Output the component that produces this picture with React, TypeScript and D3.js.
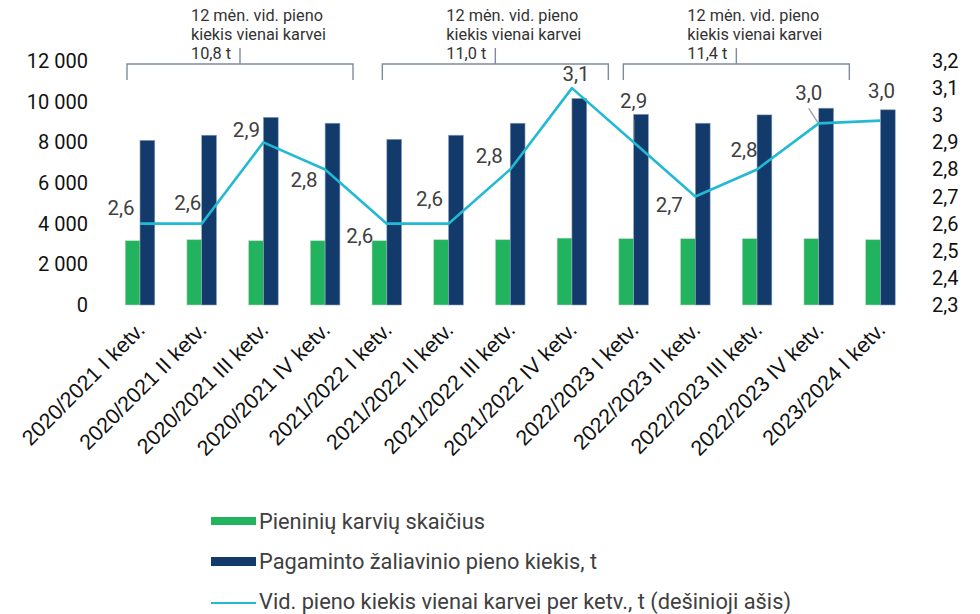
import React from "react";
import * as d3 from "d3";

const categories = [
  "2020/2021 I ketv.",
  "2020/2021 II ketv.",
  "2020/2021 III ketv.",
  "2020/2021 IV ketv.",
  "2021/2022 I ketv.",
  "2021/2022 II ketv.",
  "2021/2022 III ketv.",
  "2021/2022 IV ketv.",
  "2022/2023 I ketv.",
  "2022/2023 II ketv.",
  "2022/2023 III ketv.",
  "2022/2023 IV ketv.",
  "2023/2024 I ketv.",
];
const cows = [3160, 3210, 3160, 3160, 3160, 3210, 3210, 3290, 3260, 3260, 3260, 3260, 3210];
const milk = [8100, 8350, 9230, 8940, 8150, 8350, 8940, 10160, 9380, 8940, 9350, 9680, 9600];
const perCow = [2.6, 2.6, 2.9, 2.8, 2.6, 2.6, 2.8, 3.1, 2.9, 2.7, 2.8, 2.97, 2.98];
const leftTicks = [0, 2000, 4000, 6000, 8000, 10000, 12000];
const rightTicks = [2.3, 2.4, 2.5, 2.6, 2.7, 2.8, 2.9, 3.0, 3.1, 3.2];
const legendLabels = [
  "Pieninių karvių skaičius",
  "Pagaminto žaliavinio pieno kiekis, t",
  "Vid. pieno kiekis vienai karvei per ketv., t (dešinioji ašis)",
];
const annotationValues = ["10,8 t", "11,0 t", "11,4 t"];
const annotationStart = [0, 4, 8];

// label placement (offset from point, px)
const labelDx = [-19, -14, -17, -21, -27, -19, -21, 4, 0, -26, -13, -10, 1];
const labelDy = [-16, -21, -13, 10, 12, -25, -14, -14, -42, 8, -20, -31, -30];
const bracketShift = [-13, -4.5, -10.3];

const GREEN = "#22b35e";
const NAVY = "#123a6a";
const CYAN = "#22b9d5";
const FONT = "Roboto, 'Noto Sans', sans-serif";
const XFONT = "'Liberation Sans', Arial, sans-serif";

export default function App() {
  const x = d3.scaleBand<string>().domain(categories).range([109.15, 911.3]).padding(0);
  const step = x.step();
  const cx = (i: number) => (x(categories[i]) as number) + step / 2;
  const yL = d3.scaleLinear().domain([0, 12000]).range([305, 61]);
  const yR = d3.scaleLinear().domain([2.3, 3.2]).range([305, 61]);
  const barW = 14.8;

  const fmtLeft = (v: number) => d3.format(",")(v).replace(/,/g, " ");
  const fmtRight = (v: number) => {
    const s = d3.format(".1f")(v);
    return (s.endsWith(".0") ? s.slice(0, -2) : s).replace(".", ",");
  };
  const fmtLabel = (v: number) => d3.format(".1f")(v).replace(".", ",");

  const line = d3
    .line<number>()
    .x((_, i) => cx(i))
    .y((d) => yR(d));

  const bracketWidth = 226;

  return (
    <svg
      width={980}
      height={614}
      style={{ position: "absolute", left: 0, top: 0, background: "#fff" }}
      fontFamily={FONT}
    >
      {/* left axis */}
      {leftTicks.map((t) => (
        <text key={"l" + t} x={88} y={yL(t)} dy="0.35em" textAnchor="end" fontSize={20} fill="#111">
          {fmtLeft(t)}
        </text>
      ))}
      {/* right axis */}
      {rightTicks.map((t) => (
        <text key={"r" + t} x={932} y={yR(t)} dy="0.35em" textAnchor="start" fontSize={20} fill="#111">
          {fmtRight(t)}
        </text>
      ))}

      {/* bars */}
      {categories.map((c, i) => (
        <g key={c}>
          <rect
            x={cx(i) - barW}
            y={yL(cows[i])}
            width={barW}
            height={yL(0) - yL(cows[i])}
            fill={GREEN}
            stroke="#b8d8c4"
            strokeWidth={0.6}
          />
          <rect
            x={cx(i)}
            y={yL(milk[i])}
            width={barW}
            height={yL(0) - yL(milk[i])}
            fill={NAVY}
            stroke="#8fa2bd"
            strokeWidth={0.6}
          />
        </g>
      ))}

      {/* line */}
      <path d={line(perCow) as string} fill="none" stroke={CYAN} strokeWidth={2.6} strokeLinejoin="round" />

      {/* leader lines */}
      <line x1={cx(8)} y1={yR(perCow[8]) - 23} x2={cx(8)} y2={yR(perCow[8]) - 2} stroke="#a0a0a0" strokeWidth={1.4} />
      <line
        x1={cx(11) + labelDx[11]}
        y1={yR(perCow[11]) + labelDy[11] + 16}
        x2={cx(11) - 1}
        y2={yR(perCow[11]) - 1}
        stroke="#a0a0a0"
        strokeWidth={1.4}
      />

      {/* data labels */}
      {perCow.map((v, i) => (
        <text
          key={"d" + i}
          x={cx(i) + labelDx[i]}
          y={yR(v) + labelDy[i]}
          dy="0.35em"
          textAnchor="middle"
          fontSize={20.5}
          fill="#404040"
        >
          {fmtLabel(v)}
        </text>
      ))}

      {/* x labels */}
      {categories.map((c, i) => (
        <text
          key={"x" + c}
          transform={`translate(${cx(i) + 1},${326}) rotate(-45)`}
          textAnchor="end"
          dy="0.35em"
          fontSize={21.5}
          fontFamily={XFONT}
          fill="#111"
        >
          {c}
        </text>
      ))}

      {/* brackets */}
      {annotationStart.map((s, k) => {
        const left = cx(s) + bracketShift[k];
        const right = left + bracketWidth;
        const mid = (left + right) / 2;
        const top = 64;
        const tx = mid - 49;
        return (
          <g key={"b" + k}>
            <path
              d={`M${left},80 V${top} H${right} V80 M${mid},${top} V48`}
              fill="none"
              stroke="#7d8c9c"
              strokeWidth={1.4}
            />
            <text x={tx} y={21} fontSize={16.3} fill="#333">
              12 mėn. vid. pieno
            </text>
            <text x={tx} y={40} fontSize={16.3} fill="#333">
              kiekis vienai karvei
            </text>
            <text x={tx} y={59} fontSize={16.3} fill="#333">
              {annotationValues[k]}
            </text>
          </g>
        );
      })}

      {/* legend */}
      <rect x={211} y={517} width={45} height={8} fill={GREEN} />
      <text x={259} y={521} dy="0.35em" fontSize={21.8} fill="#404040">
        {legendLabels[0]}
      </text>
      <rect x={211} y={557} width={45} height={9} fill={NAVY} />
      <text x={259} y={561} dy="0.35em" fontSize={21.8} fill="#404040">
        {legendLabels[1]}
      </text>
      <line x1={211} y1={603} x2={256} y2={603} stroke={CYAN} strokeWidth={2} />
      <text x={259} y={601} dy="0.35em" fontSize={21.8} fill="#404040">
        {legendLabels[2]}
      </text>
    </svg>
  );
}
